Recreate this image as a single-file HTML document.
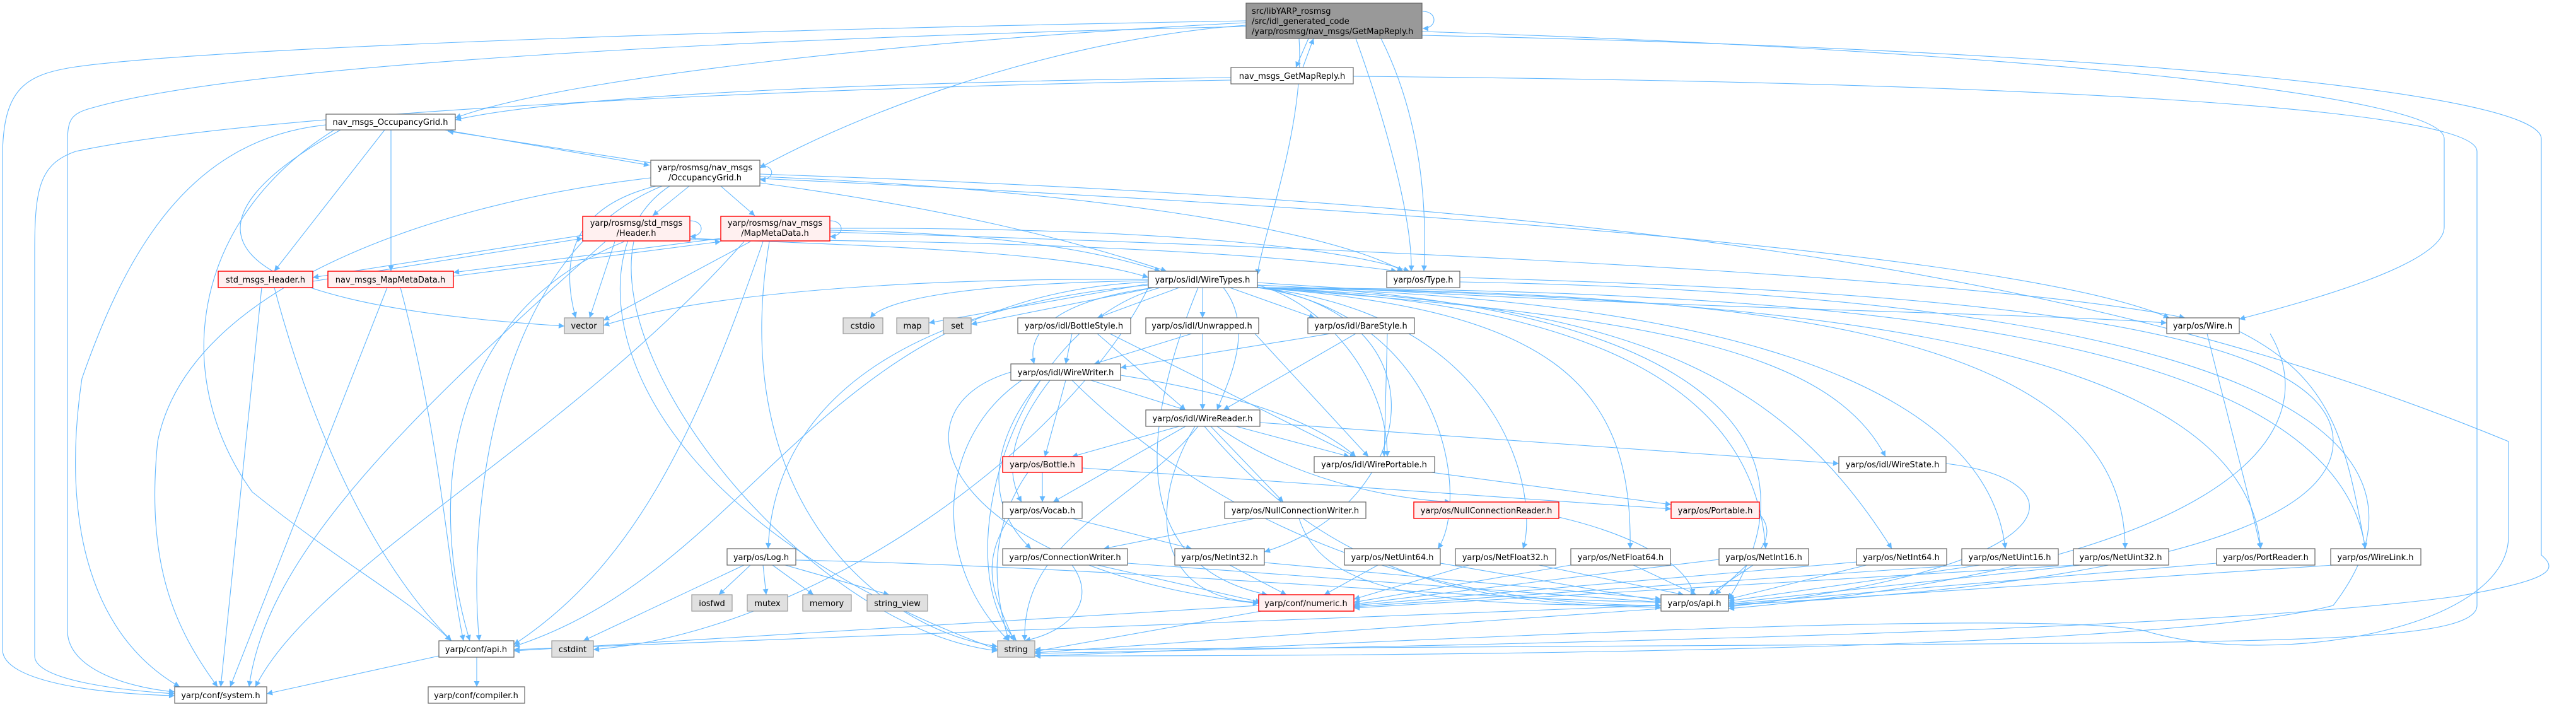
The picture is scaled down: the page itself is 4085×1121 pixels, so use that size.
<!DOCTYPE html>
<html><head><meta charset="utf-8">
<style>
html,body{margin:0;padding:0;background:#fff;}
svg{display:block;}
text{font-family:"DejaVu Sans","Liberation Sans",sans-serif;font-size:13px;fill:#000;}
.e{fill:none;stroke:#63b8ff;stroke-width:1.1;marker-end:url(#a);}
.w{fill:#fff;stroke:#666;stroke-width:1.2;}
.r{fill:#fff0f0;stroke:#f00;stroke-width:1.4;}
.g{fill:#e0e0e0;stroke:#999;stroke-width:1.2;}
.t{fill:#999;stroke:#666;stroke-width:1.2;}
</style></head><body>
<svg width="4085" height="1121" viewBox="0 0 4085 1121" xmlns="http://www.w3.org/2000/svg">
<defs><marker id="a" viewBox="0 0 10 10" refX="10" refY="5" markerWidth="11" markerHeight="9" markerUnits="userSpaceOnUse" orient="auto"><path d="M0,0 L10,5 L0,10z" fill="#63b8ff"/></marker></defs>
<g>
<!-- top -->
<path class="e" d="M2075,61 L2055,107"/>
<path class="e" d="M2066,107 L2083,61"/>
<path class="e" d="M2256,18 C2280,18 2280,45 2256,45"/>
<path class="e" d="M1976,40 C1700,60 1400,160 1205,266"/>
<path class="e" d="M1976,36 C1500,60 900,120 722,187"/>
<path class="e" d="M1976,33 C1000,50 300,80 120,106 C40,118 4,140 4,250 L4,1030 C4,1080 150,1100 277,1103"/>
<path class="e" d="M1976,42 C1200,60 400,100 150,170 C110,180 107,190 107,230 L107,1000 C107,1060 200,1090 277,1097"/>
<path class="e" d="M2060,61 C2070,200 2000,380 1994,436"/>
<path class="e" d="M2150,61 C2200,200 2240,350 2238,430"/>
<path class="e" d="M2190,61 C2260,200 2262,350 2258,430"/>
<path class="e" d="M2255,50 C3200,80 3876,150 3876,220 L3876,360 C3876,420 3650,480 3551,506"/>
<path class="e" d="M2255,56 C3400,80 4030,150 4030,220 L4030,880 C4060,905 4040,920 3900,945 C3500,1000 2500,1020 1641,1036"/>
<!-- GMR -->
<path class="e" d="M1952,123 C1400,130 900,150 722,190"/>
<path class="e" d="M1952,127 C1200,140 400,180 120,240 C62,260 55,300 55,400 L55,1040 C55,1080 200,1095 277,1100"/>
<path class="e" d="M2146,121 C3200,130 3928,170 3928,240 L3928,960 C3928,1010 3700,1015 3300,1020 L1641,1030"/>
<!-- NOG -->
<path class="e" d="M705,206 L1030,262"/>
<path class="e" d="M1032,258 L710,208"/>
<path class="e" d="M610,206 L435,430"/>
<path class="e" d="M620,206 L620,430"/>
<path class="e" d="M517,198 C300,220 200,400 130,600 C100,800 130,1000 285,1089"/>
<path class="e" d="M530,206 C300,350 270,600 400,780 C550,900 650,950 715,1016"/>
<path class="e" d="M540,206 C280,350 300,480 895,517"/>
<!-- ROG -->
<path class="e" d="M1093,295 L1035,342"/>
<path class="e" d="M1143,295 L1197,342"/>
<path class="e" d="M1040,295 C900,330 890,420 913,504"/>
<path class="e" d="M1205,290 C1500,330 1700,380 1850,430"/>
<path class="e" d="M1205,280 C1700,300 2100,360 2225,430"/>
<path class="e" d="M1205,283 C2200,330 3200,400 3440,504"/>
<path class="e" d="M1032,282 C700,320 300,450 250,700 C230,900 280,1000 345,1089"/>
<path class="e" d="M1050,295 C790,400 740,800 760,1016"/>
<path class="e" d="M1062,295 C900,400 950,800 1582,1030"/>
<path class="e" d="M1205,262 C1230,262 1230,285 1205,285"/>
<path class="e" d="M1205,276 C2500,320 3300,420 3978,700 L3978,850 C3978,1000 3600,1060 3400,1000 C3200,960 2000,1030 1641,1040"/>
<!-- HDR -->
<path class="e" d="M924,373 L496,440"/>
<path class="e" d="M496,446 L924,378"/>
<path class="e" d="M975,383 L935,504"/>
<path class="e" d="M1005,383 C960,600 1300,1000 1582,1032"/>
<path class="e" d="M990,383 C700,500 680,800 745,1016"/>
<path class="e" d="M960,383 C600,700 420,900 395,1089"/>
<path class="e" d="M1094,378 C1400,390 1700,400 1821,440"/>
<path class="e" d="M1094,380 C1600,380 2000,400 2215,430"/>
<path class="e" d="M1094,350 C1118,350 1118,375 1094,375"/>
<!-- MMD -->
<path class="e" d="M1143,378 L719,432"/>
<path class="e" d="M719,438 L1143,383"/>
<path class="e" d="M1190,383 L957,508"/>
<path class="e" d="M1316,365 C1600,370 1750,400 1840,430"/>
<path class="e" d="M1316,362 C1900,360 2150,400 2235,430"/>
<path class="e" d="M1316,368 C2400,400 3200,450 3465,504"/>
<path class="e" d="M1210,383 C1100,700 1000,900 815,1022"/>
<path class="e" d="M1220,383 C1150,800 1400,1000 1582,1025"/>
<path class="e" d="M1180,383 C900,700 500,900 405,1089"/>
<path class="e" d="M1316,350 C1340,350 1340,375 1316,375"/>
<!-- SMH NMM -->
<path class="e" d="M415,456 L350,1089"/>
<path class="e" d="M435,456 C500,700 600,900 716,1016"/>
<path class="e" d="M614,456 L365,1089"/>
<path class="e" d="M635,456 C700,700 710,900 735,1016"/>
<!-- WT -->
<path class="e" d="M1821,445 C1500,450 1400,480 1380,504"/>
<path class="e" d="M1821,450 L1473,512"/>
<path class="e" d="M1830,456 L1540,514"/>
<path class="e" d="M1821,443 C1400,440 1100,470 957,516"/>
<path class="e" d="M1870,456 L1740,504"/>
<path class="e" d="M1907,456 L1907,504"/>
<path class="e" d="M1950,456 L2085,504"/>
<path class="e" d="M1830,456 C1650,480 1630,540 1640,577"/>
<path class="e" d="M1940,456 C1990,520 1950,600 1930,650"/>
<path class="e" d="M1994,452 C2100,480 2200,600 2200,724"/>
<path class="e" d="M1994,456 C2600,500 2900,550 2990,724"/>
<path class="e" d="M1821,452 C1500,480 1230,600 1218,870"/>
<path class="e" d="M1821,456 C1700,700 1300,1000 941,1030"/>
<path class="e" d="M1840,456 C1600,520 1500,900 1612,1016"/>
<path class="e" d="M1994,456 C2500,480 2780,600 2800,870"/>
<path class="e" d="M1994,455 C2300,500 2250,800 2005,875"/>
<path class="e" d="M1994,456 C2300,500 2330,800 2280,870"/>
<path class="e" d="M1994,456 C2400,500 2440,800 2415,870"/>
<path class="e" d="M1994,456 C2450,490 2590,600 2585,870"/>
<path class="e" d="M1994,456 C2600,480 2830,600 3000,870"/>
<path class="e" d="M1994,456 C2700,470 3150,600 3180,870"/>
<path class="e" d="M1994,456 C2700,465 3370,500 3370,870"/>
<path class="e" d="M1994,456 C2900,470 3560,550 3585,870"/>
<path class="e" d="M1994,456 C2900,460 3700,520 3751,870"/>
<path class="e" d="M1994,448 C2600,490 3200,495 3436,512"/>
<path class="e" d="M1821,447 C1300,470 1200,900 815,1025"/>
<path class="e" d="M1994,452 C2700,480 2900,700 2741,950"/>
<path class="e" d="M1900,456 C1800,700 1800,900 2010,943"/>
<path class="e" d="M2315,447 C3600,470 3900,700 3700,960 C3400,1040 2000,1040 1641,1040"/>
<path class="e" d="M2315,440 C3000,460 3700,500 3700,700 C3700,900 3000,950 2741,958"/>
<!-- styles -->
<path class="e" d="M1700,529 L1690,577"/>
<path class="e" d="M1890,529 L1735,577"/>
<path class="e" d="M2110,529 L1777,583"/>
<path class="e" d="M1740,529 L1880,650"/>
<path class="e" d="M1907,529 L1907,650"/>
<path class="e" d="M2150,529 L1940,650"/>
<path class="e" d="M1760,529 L2150,724"/>
<path class="e" d="M1990,529 L2170,724"/>
<path class="e" d="M2200,529 L2195,724"/>
<!-- WW -->
<path class="e" d="M1730,603 L1880,650"/>
<path class="e" d="M1690,603 L1657,724"/>
<path class="e" d="M1665,603 C1590,700 1600,760 1620,796"/>
<path class="e" d="M1650,603 C1570,700 1560,800 1635,870"/>
<path class="e" d="M1777,595 C2000,630 2100,680 2150,724"/>
<path class="e" d="M1620,603 C1480,700 1480,900 1600,1016"/>
<path class="e" d="M1603,590 C1400,650 1500,900 1996,957"/>
<path class="e" d="M1700,603 C1900,800 2200,960 2634,960"/>
<!-- WR -->
<path class="e" d="M1870,676 L1700,724"/>
<path class="e" d="M1880,676 L1670,796"/>
<path class="e" d="M1960,676 L2140,724"/>
<path class="e" d="M1920,676 L2035,796"/>
<path class="e" d="M1930,676 C2050,760 2200,790 2300,796"/>
<path class="e" d="M1998,670 L2916,735"/>
<path class="e" d="M1900,676 C1800,800 1620,850 1625,1016"/>
<path class="e" d="M1895,676 C1820,800 1830,950 1996,955"/>
<path class="e" d="M1910,676 C2100,900 2300,960 2634,963"/>
<!-- lower -->
<path class="e" d="M1653,749 L1653,796"/>
<path class="e" d="M1716,742 L2650,807"/>
<path class="e" d="M1630,749 C1560,850 1580,950 1600,1016"/>
<path class="e" d="M2270,749 L2650,800"/>
<path class="e" d="M1700,822 L1890,870"/>
<path class="e" d="M1600,822 C1550,900 1580,950 1608,1016"/>
<path class="e" d="M1990,822 L1750,870"/>
<path class="e" d="M2060,822 C2100,950 2300,960 2634,960"/>
<path class="e" d="M2472,820 C2600,850 2680,900 2685,943"/>
<path class="e" d="M2790,815 C2830,860 2760,900 2720,943"/>
<path class="e" d="M1740,896 L2000,955"/>
<path class="e" d="M1700,896 C1740,950 1700,1000 1625,1016"/>
<path class="e" d="M1788,893 L2634,955"/>
<path class="e" d="M1950,896 L2040,943"/>
<path class="e" d="M2005,892 L2634,950"/>
<path class="e" d="M2185,896 L2100,943"/>
<path class="e" d="M2284,893 L2634,953"/>
<path class="e" d="M2330,896 L2147,950"/>
<path class="e" d="M2440,896 L2670,943"/>
<path class="e" d="M2491,896 L2147,955"/>
<path class="e" d="M2590,896 L2690,943"/>
<path class="e" d="M2726,887 L2147,958"/>
<path class="e" d="M2780,896 L2710,943"/>
<path class="e" d="M2957,890 L2147,960"/>
<path class="e" d="M2960,896 L2741,950"/>
<path class="e" d="M3111,896 L2147,962"/>
<path class="e" d="M3140,896 L2741,953"/>
<path class="e" d="M3290,896 L2147,964"/>
<path class="e" d="M3300,896 L2741,956"/>
<path class="e" d="M3515,893 L2741,958"/>
<path class="e" d="M3700,896 L2741,960"/>
<path class="e" d="M3086,735 C3300,760 3300,900 2741,962"/>
<path class="e" d="M3500,529 C3530,650 3570,800 3585,870"/>
<path class="e" d="M3550,525 C3700,600 3720,700 3751,870"/>
<path class="e" d="M3600,529 C3700,700 3500,900 2741,965"/>
<path class="e" d="M1996,960 L815,1032"/>
<path class="e" d="M2000,969 L1641,1033"/>
<path class="e" d="M2634,960 L815,1030"/>
<path class="e" d="M2634,965 L1641,1035"/>
<path class="e" d="M1190,896 L1140,943"/>
<path class="e" d="M1210,896 L1215,943"/>
<path class="e" d="M1225,896 L1290,943"/>
<path class="e" d="M1245,896 L1410,943"/>
<path class="e" d="M1180,896 L925,1016"/>
<path class="e" d="M1262,888 C1800,900 2300,950 2634,955"/>
<path class="e" d="M696,1040 L423,1100"/>
<path class="e" d="M756,1042 L756,1089"/>
</g>
<g>
<rect class="t" x="1976" y="5" width="279" height="56"/>
<text x="1985" y="22">src/libYARP_rosmsg</text>
<text x="1985" y="38">/src/idl_generated_code</text>
<text x="1985" y="54">/yarp/rosmsg/nav_msgs/GetMapReply.h</text>

<rect class="w" x="1952" y="107" width="194" height="26"/><text x="2049" y="125" text-anchor="middle">nav_msgs_GetMapReply.h</text>
<rect class="w" x="517" y="181" width="205" height="25"/><text x="619" y="198" text-anchor="middle">nav_msgs_OccupancyGrid.h</text>
<rect class="w" x="1032" y="254" width="173" height="41"/><text x="1118" y="270" text-anchor="middle">yarp/rosmsg/nav_msgs</text><text x="1118" y="286" text-anchor="middle">/OccupancyGrid.h</text>
<rect class="r" x="924" y="343" width="170" height="39"/><text x="1009" y="358" text-anchor="middle">yarp/rosmsg/std_msgs</text><text x="1009" y="374" text-anchor="middle">/Header.h</text>
<rect class="r" x="1143" y="343" width="173" height="39"/><text x="1229" y="358" text-anchor="middle">yarp/rosmsg/nav_msgs</text><text x="1229" y="374" text-anchor="middle">/MapMetaData.h</text>
<rect class="r" x="346" y="430" width="150" height="26"/><text x="421" y="448" text-anchor="middle">std_msgs_Header.h</text>
<rect class="r" x="520" y="430" width="199" height="26"/><text x="619" y="448" text-anchor="middle">nav_msgs_MapMetaData.h</text>
<rect class="w" x="1821" y="430" width="173" height="26"/><text x="1907" y="448" text-anchor="middle">yarp/os/idl/WireTypes.h</text>
<rect class="w" x="2199" y="430" width="116" height="26"/><text x="2257" y="448" text-anchor="middle">yarp/os/Type.h</text>
<rect class="g" x="895" y="504" width="62" height="25"/><text x="926" y="521" text-anchor="middle">vector</text>
<rect class="g" x="1337" y="504" width="63" height="25"/><text x="1368" y="521" text-anchor="middle">cstdio</text>
<rect class="g" x="1422" y="504" width="51" height="25"/><text x="1447" y="521" text-anchor="middle">map</text>
<rect class="g" x="1496" y="504" width="44" height="25"/><text x="1518" y="521" text-anchor="middle">set</text>
<rect class="w" x="1614" y="504" width="179" height="25"/><text x="1703" y="521" text-anchor="middle">yarp/os/idl/BottleStyle.h</text>
<rect class="w" x="1817" y="504" width="179" height="25"/><text x="1906" y="521" text-anchor="middle">yarp/os/idl/Unwrapped.h</text>
<rect class="w" x="2074" y="504" width="169" height="25"/><text x="2158" y="521" text-anchor="middle">yarp/os/idl/BareStyle.h</text>
<rect class="w" x="3436" y="504" width="115" height="25"/><text x="3493" y="521" text-anchor="middle">yarp/os/Wire.h</text>
<rect class="w" x="1603" y="577" width="174" height="26"/><text x="1690" y="595" text-anchor="middle">yarp/os/idl/WireWriter.h</text>
<rect class="w" x="1817" y="650" width="181" height="26"/><text x="1907" y="668" text-anchor="middle">yarp/os/idl/WireReader.h</text>
<rect class="r" x="1590" y="724" width="126" height="25"/><text x="1653" y="741" text-anchor="middle">yarp/os/Bottle.h</text>
<rect class="w" x="2084" y="724" width="191" height="25"/><text x="2179" y="741" text-anchor="middle">yarp/os/idl/WirePortable.h</text>
<rect class="w" x="2916" y="724" width="170" height="25"/><text x="3001" y="741" text-anchor="middle">yarp/os/idl/WireState.h</text>
<rect class="w" x="1590" y="796" width="126" height="26"/><text x="1653" y="814" text-anchor="middle">yarp/os/Vocab.h</text>
<rect class="w" x="1942" y="796" width="224" height="26"/><text x="2054" y="814" text-anchor="middle">yarp/os/NullConnectionWriter.h</text>
<rect class="r" x="2242" y="796" width="230" height="26"/><text x="2357" y="814" text-anchor="middle">yarp/os/NullConnectionReader.h</text>
<rect class="r" x="2650" y="796" width="140" height="26"/><text x="2720" y="814" text-anchor="middle">yarp/os/Portable.h</text>
<rect class="w" x="1153" y="870" width="109" height="26"/><text x="1207" y="888" text-anchor="middle">yarp/os/Log.h</text>
<rect class="w" x="1590" y="870" width="198" height="26"/><text x="1689" y="888" text-anchor="middle">yarp/os/ConnectionWriter.h</text>
<rect class="w" x="1863" y="870" width="142" height="26"/><text x="1934" y="888" text-anchor="middle">yarp/os/NetInt32.h</text>
<rect class="w" x="2132" y="870" width="152" height="26"/><text x="2208" y="888" text-anchor="middle">yarp/os/NetUint64.h</text>
<rect class="w" x="2308" y="870" width="159" height="26"/><text x="2387" y="888" text-anchor="middle">yarp/os/NetFloat32.h</text>
<rect class="w" x="2491" y="870" width="158" height="26"/><text x="2570" y="888" text-anchor="middle">yarp/os/NetFloat64.h</text>
<rect class="w" x="2726" y="870" width="142" height="26"/><text x="2797" y="888" text-anchor="middle">yarp/os/NetInt16.h</text>
<rect class="w" x="2944" y="870" width="143" height="26"/><text x="3015" y="888" text-anchor="middle">yarp/os/NetInt64.h</text>
<rect class="w" x="3111" y="870" width="153" height="26"/><text x="3187" y="888" text-anchor="middle">yarp/os/NetUint16.h</text>
<rect class="w" x="3288" y="870" width="151" height="26"/><text x="3363" y="888" text-anchor="middle">yarp/os/NetUint32.h</text>
<rect class="w" x="3515" y="870" width="156" height="26"/><text x="3593" y="888" text-anchor="middle">yarp/os/PortReader.h</text>
<rect class="w" x="3696" y="870" width="143" height="26"/><text x="3767" y="888" text-anchor="middle">yarp/os/WireLink.h</text>
<rect class="g" x="1097" y="943" width="64" height="26"/><text x="1129" y="961" text-anchor="middle">iosfwd</text>
<rect class="g" x="1185" y="943" width="64" height="26"/><text x="1217" y="961" text-anchor="middle">mutex</text>
<rect class="g" x="1273" y="943" width="77" height="26"/><text x="1311" y="961" text-anchor="middle">memory</text>
<rect class="g" x="1375" y="943" width="96" height="26"/><text x="1423" y="961" text-anchor="middle">string_view</text>
<rect class="r" x="1996" y="943" width="151" height="26"/><text x="2071" y="961" text-anchor="middle">yarp/conf/numeric.h</text>
<rect class="w" x="2634" y="943" width="107" height="26"/><text x="2687" y="961" text-anchor="middle">yarp/os/api.h</text>
<rect class="w" x="696" y="1016" width="119" height="26"/><text x="755" y="1034" text-anchor="middle">yarp/conf/api.h</text>
<rect class="g" x="875" y="1016" width="66" height="26"/><text x="908" y="1034" text-anchor="middle">cstdint</text>
<rect class="g" x="1582" y="1016" width="59" height="26"/><text x="1611" y="1034" text-anchor="middle">string</text>
<rect class="w" x="277" y="1089" width="146" height="26"/><text x="350" y="1107" text-anchor="middle">yarp/conf/system.h</text>
<rect class="w" x="679" y="1089" width="153" height="26"/><text x="755" y="1107" text-anchor="middle">yarp/conf/compiler.h</text>
</g>
</svg>
</body></html>
